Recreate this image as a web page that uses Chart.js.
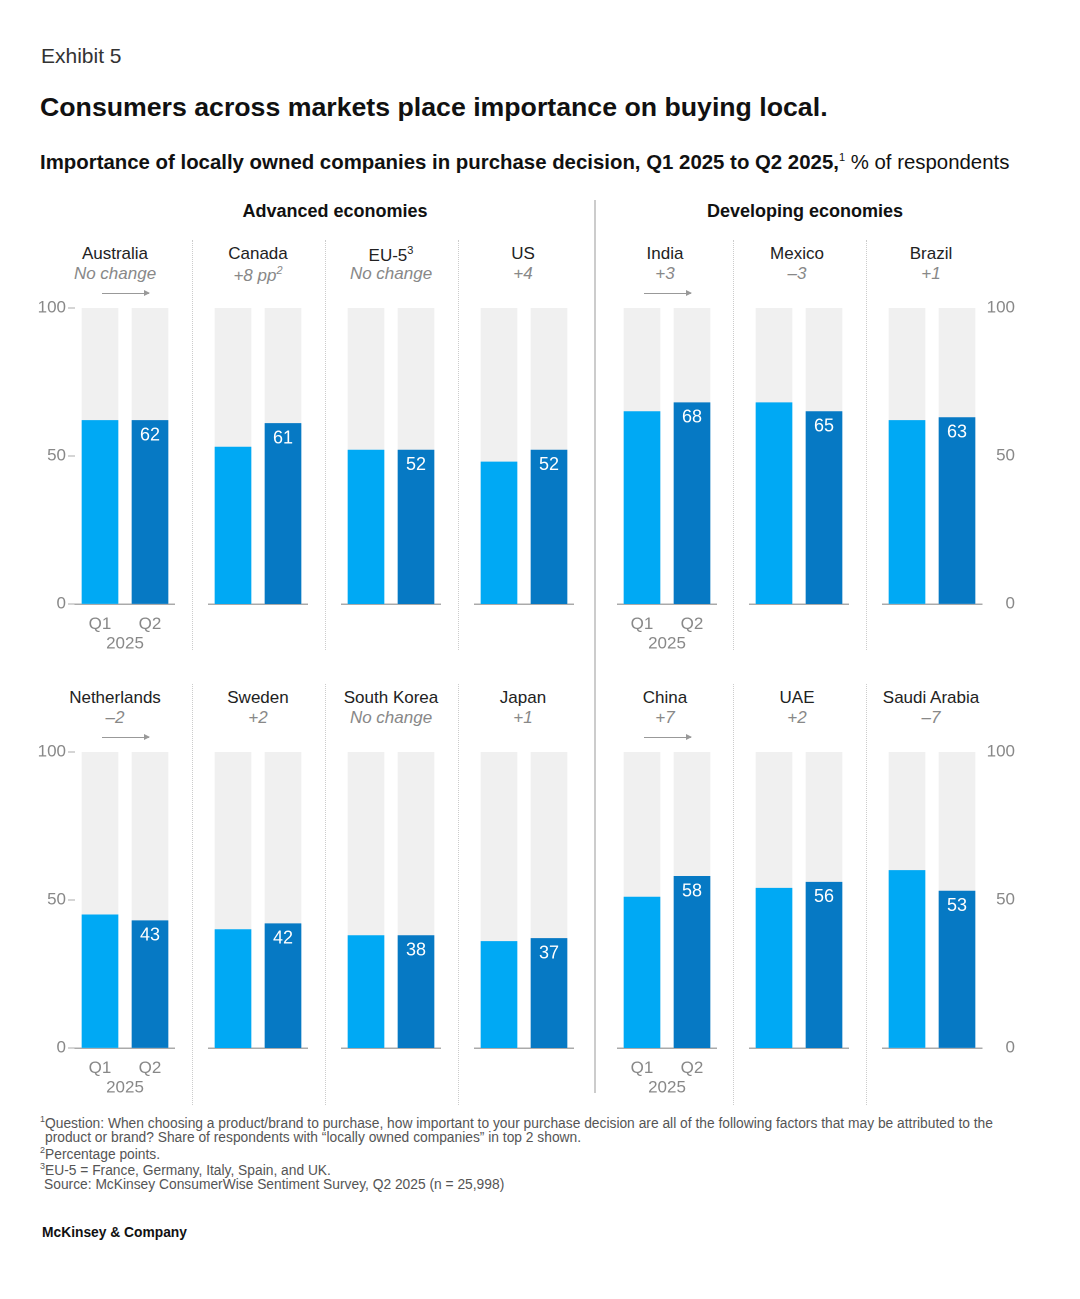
<!DOCTYPE html>
<html>
<head>
<meta charset="utf-8">
<script src="https://cdn.jsdelivr.net/npm/chart.js@4.4.1/dist/chart.umd.min.js"></script>
<style>
  body { margin: 0; background: #fff; font-family: "Liberation Sans", Arial, sans-serif; }
  #page { position: relative; width: 1080px; height: 1299px; overflow: hidden; }
  .t { position: absolute; white-space: nowrap; }
  .c { transform: translateX(-50%); text-align: center; }
  .name { font-size: 17px; color: #222; }
  .chg { font-size: 17px; color: #888; font-style: italic; }
  .grp { font-size: 18px; font-weight: bold; color: #111; }
  .dot { position: absolute; width: 0; border-left: 1.5px dotted #ccc; }
  .arrow { position: absolute; height: 1px; background: #999; }
  .arrow:after { content: ""; position: absolute; right: -1px; top: -3px; border-left: 6px solid #999; border-top: 3.5px solid transparent; border-bottom: 3.5px solid transparent; }
  .foot { font-size: 13.8px; color: #555; }
  canvas { position: absolute; }
</style>
</head>
<body>
<div id="page">
  <div class="t" style="left:41px;top:44px;font-size:21px;color:#333;">Exhibit 5</div>
  <div class="t" style="left:40px;top:92px;font-size:26.7px;font-weight:bold;color:#111;">Consumers across markets place importance on buying local.</div>
  <div class="t" style="left:40px;top:151px;font-size:20.4px;color:#111;"><b>Importance of locally owned companies in purchase decision, Q1 2025 to Q2 2025,</b><sup style="font-size:11px;">1</sup> % of respondents</div>
  <div class="t c grp" style="left:335px;top:201px;">Advanced economies</div>
  <div class="t c grp" style="left:805px;top:201px;">Developing economies</div>
  <div style="position:absolute;left:594px;top:200px;width:2px;height:893px;background:#ccc;"></div>

  <div class="t foot" style="left:40px;top:1114px;"><sup style="font-size:9px;">1</sup>Question: When choosing a product/brand to purchase, how important to your purchase decision are all of the following factors that may be attributed to the</div>
  <div class="t foot" style="left:45px;top:1130px;">product or brand? Share of respondents with “locally owned companies” in top 2 shown.</div>
  <div class="t foot" style="left:40px;top:1145px;"><sup style="font-size:9px;">2</sup>Percentage points.</div>
  <div class="t foot" style="left:40px;top:1161px;"><sup style="font-size:9px;">3</sup>EU-5 = France, Germany, Italy, Spain, and UK.</div>
  <div class="t foot" style="left:44px;top:1177px;">Source: McKinsey ConsumerWise Sentiment Survey, Q2 2025 (n = 25,998)</div>
  <div class="t foot" style="left:42px;top:1225px;font-weight:bold;color:#111;">McKinsey &amp; Company</div>
</div>
<script>
// data
const countries = ['Australia', 'Canada', 'EU-5³', 'US', 'India', 'Mexico', 'Brazil',
                   'Netherlands', 'Sweden', 'South Korea', 'Japan', 'China', 'UAE', 'Saudi Arabia'];
const changes = ['No change', '+8 pp²', 'No change', '+4', '+3', '–3', '+1',
                 '–2', '+2', 'No change', '+1', '+7', '+2', '–7'];
const q1Values = [62, 53, 52, 48, 65, 68, 62, 45, 40, 38, 36, 51, 54, 60];
const q2Values = [62, 61, 52, 52, 68, 65, 63, 43, 42, 38, 37, 58, 56, 53];
const periods = ['Q1', 'Q2'];
const yearLabel = '2025';
const yMax = 100;

// layout
const areaLeft = [75, 208, 341, 474, 617, 749, 882];
const nameCenter = [115, 258, 391, 523, 665, 797, 931];
const rowTop = [308, 752];
const areaW = 100, areaH = 296, padTop = 16, xAxisH = 60, yAxisW = 45, yAxisWR = 33;
const lightBlue = '#00a9f4', darkBlue = '#0679c4', bgGrey = '#f0f0f0';

const page = document.getElementById('page');

function addDiv(cls, x, y, html) {
  const d = document.createElement('div');
  d.className = cls;
  d.style.left = x + 'px';
  d.style.top = y + 'px';
  d.innerHTML = html || '';
  page.appendChild(d);
  return d;
}

const valueLabel = {
  id: 'valueLabel',
  afterDatasetsDraw(chart) {
    const ctx = chart.ctx;
    const el = chart.getDatasetMeta(0).data[1];
    ctx.save();
    ctx.fillStyle = '#fff';
    ctx.font = '18px "Liberation Sans", Arial, sans-serif';
    ctx.textAlign = 'center';
    ctx.textBaseline = 'middle';
    ctx.fillText(chart.data.datasets[0].data[1], el.x, el.y + 15);
    ctx.restore();
  }
};

const gridGrey = '#aaa', tickText = '#888';
const tickFont = { size: 17, family: '"Liberation Sans", Arial' };

for (let i = 0; i < countries.length; i++) {
  const row = Math.floor(i / 7), col = i % 7;
  const top = rowTop[row];
  const hasLeft = col === 0, hasRight = col === 6, hasX = col === 0 || col === 4;

  addDiv('t c name', nameCenter[col], top - 64,
         countries[i].replace('³', '<sup style="font-size:11px;">3</sup>'));
  addDiv('t c chg', nameCenter[col], top - 44,
         changes[i].replace('pp²', 'pp<sup style="font-size:11px;">2</sup>'));

  if (hasX) {
    const a = addDiv('arrow', areaLeft[col] + 27, top - 15);
    a.style.width = '47px';
  }

  if (col !== 0 && col !== 4) {
    const d = addDiv('dot', areaLeft[col] - 16, top - 68);
    d.style.height = (row === 0 ? 410 : 421) + 'px';
  }

  const cv = document.createElement('canvas');
  const yw = hasLeft ? yAxisW : (hasRight ? yAxisWR : 0);
  const w = areaW + yw;
  const h = padTop + areaH + xAxisH;
  cv.style.left = (areaLeft[col] - (hasLeft ? yAxisW : 0)) + 'px';
  cv.style.top = (top - padTop) + 'px';
  cv.style.width = w + 'px';
  cv.style.height = h + 'px';
  page.appendChild(cv);

  new Chart(cv, {
    type: 'bar',
    data: {
      labels: periods,
      datasets: [
        { data: [q1Values[i], q2Values[i]], backgroundColor: [lightBlue, darkBlue],
          barThickness: 36, grouped: false, order: 0 },
        { data: [yMax, yMax], backgroundColor: bgGrey, barThickness: 36, grouped: false, order: 1 }
      ]
    },
    options: {
      responsive: false,
      animation: false,
      devicePixelRatio: 2,
      layout: { padding: { top: padTop, left: 0, right: 0, bottom: 0 } },
      plugins: { legend: { display: false }, tooltip: { enabled: false } },
      scales: {
        x: {
          grid: { display: false },
          border: { display: true, color: gridGrey, width: 1.5 },
          ticks: { display: hasX, color: tickText, font: tickFont, padding: 2, maxRotation: 0 },
          title: { display: hasX, text: yearLabel, color: tickText, font: tickFont, padding: { top: 0, bottom: 10 } },
          afterFit(s) { s.height = xAxisH; }
        },
        y: {
          display: hasLeft || hasRight,
          position: hasRight ? 'right' : 'left',
          min: 0, max: yMax,
          border: { display: false },
          grid: { drawOnChartArea: false, drawTicks: hasLeft, tickLength: 7, tickColor: gridGrey },
          ticks: { stepSize: 50, color: tickText, font: tickFont,
                   padding: hasLeft ? 2 : 4, crossAlign: hasRight ? 'far' : 'near' },
          afterFit(s) { s.width = yw; }
        }
      }
    },
    plugins: [valueLabel]
  });
}
</script>
</body>
</html>
